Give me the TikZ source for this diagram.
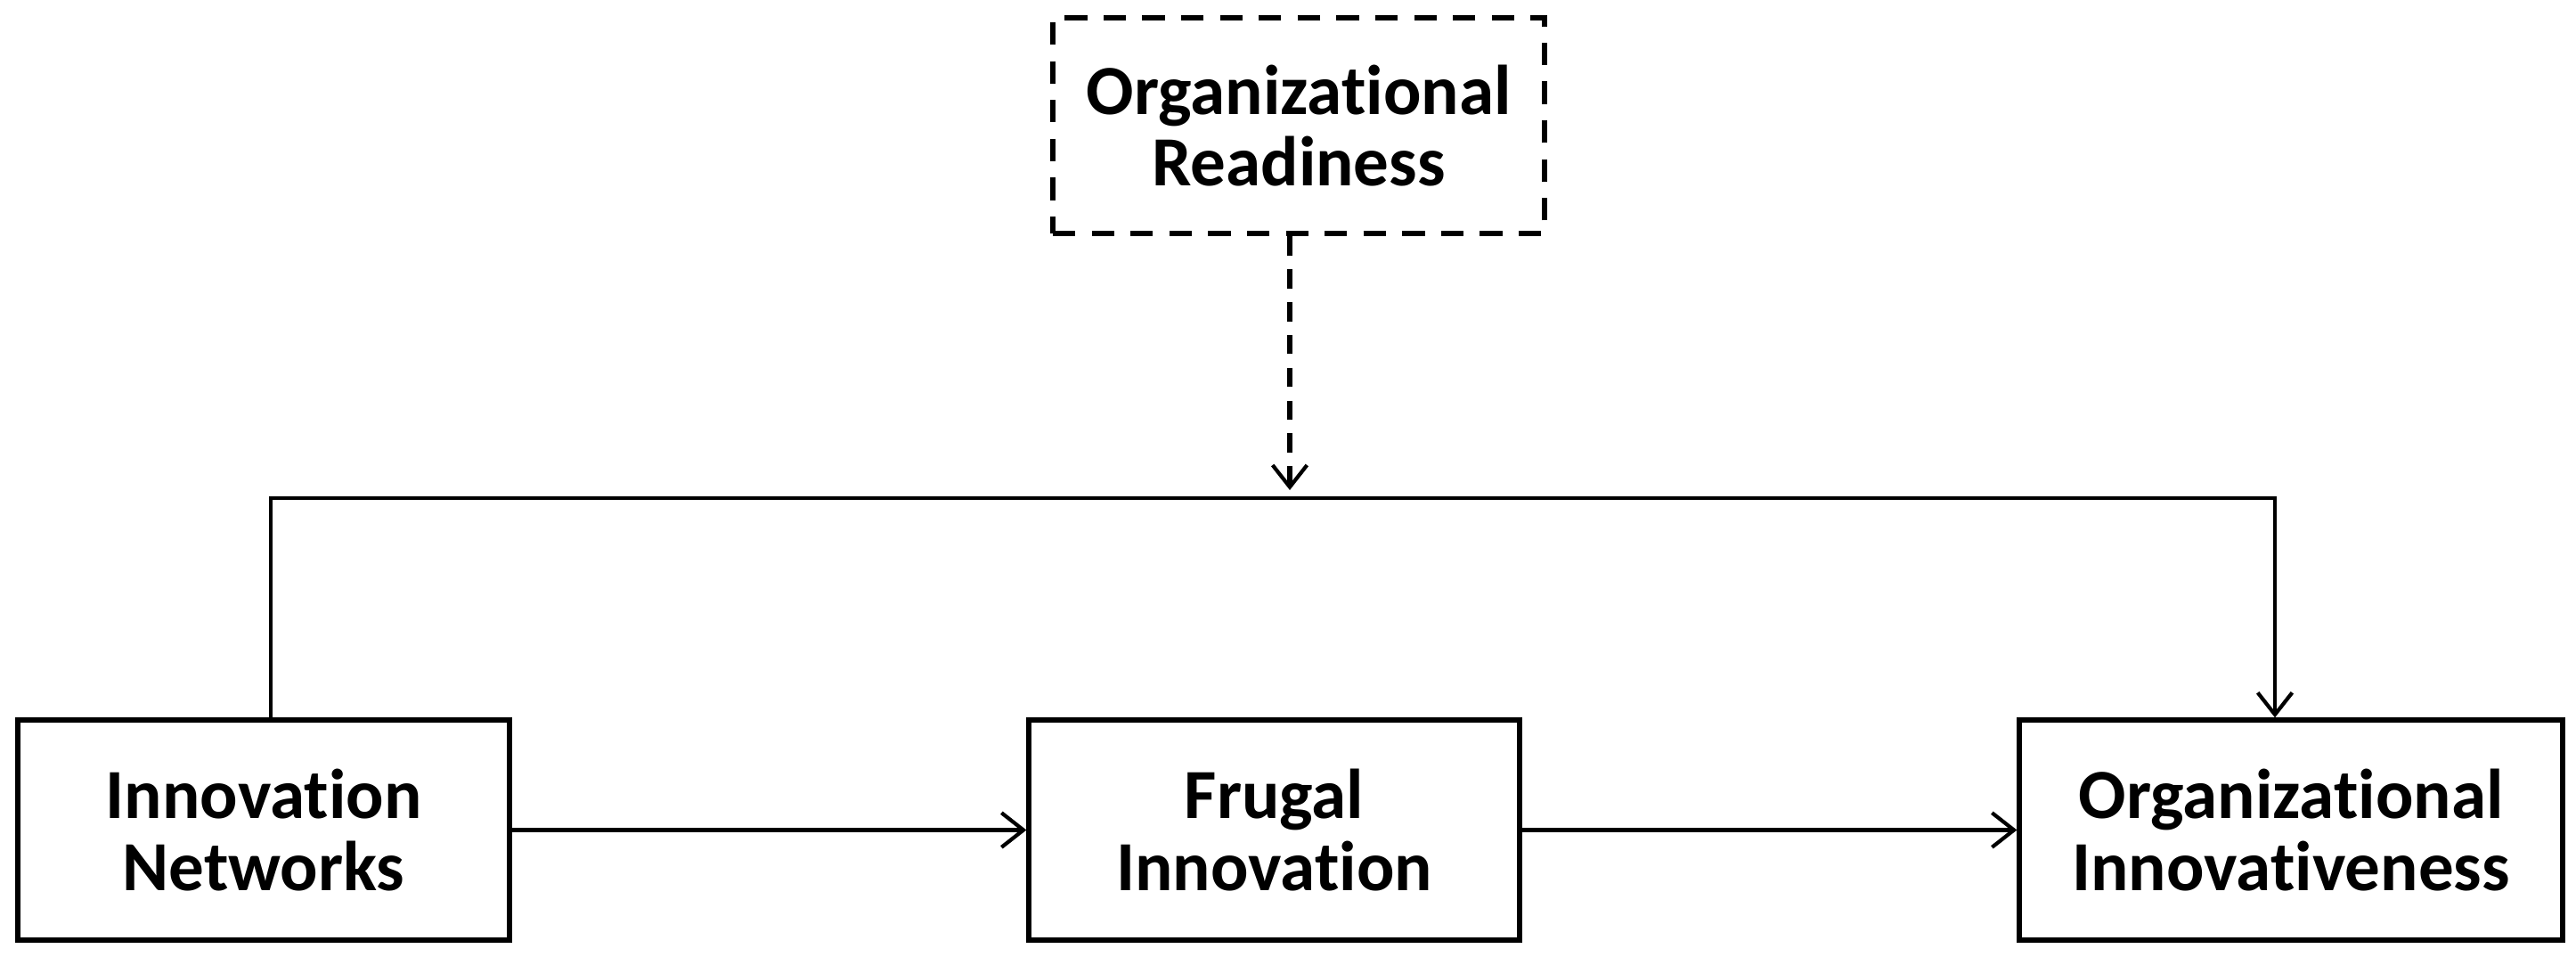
\documentclass[tikz,border=0pt]{standalone}
\usepackage{fontspec}
\setmainfont{Carlito}[RawFeature=-liga]
\usetikzlibrary{arrows.meta}
\begin{document}
\begin{tikzpicture}[
  box/.style={draw, line width=1.5pt, align=center, inner sep=0pt,
    font=\fontsize{22.5}{23}\selectfont\bfseries},
  dashbox/.style={box, line width=1.7pt, dash pattern=on 7.2pt off 5.2pt},
  conn/.style={line width=1.15pt, line join=miter,
    -{Straight Barb[length=7pt,width=11pt,line width=1.2pt]}},
  dashconn/.style={conn, line width=1.5pt, dash pattern=on 6.2pt off 4.3pt}
]
\useasboundingbox (0,0) rectangle (28.92,10.73);
\node[dashbox, minimum width=5.52cm, minimum height=2.42cm] (R) at (14.58,9.32) {Organizational\\Readiness};
\node[box, minimum width=5.52cm, minimum height=2.47cm] (IN) at (2.96,1.415) {Innovation\\Networks};
\node[box, minimum width=5.51cm, minimum height=2.47cm] (FI) at (14.305,1.415) {Frugal\\Innovation};
\node[box, minimum width=6.10cm, minimum height=2.47cm] (OI) at (25.72,1.415) {Organizational\\Innovativeness};
\coordinate (L) at (3.04,5.14);
\coordinate (Rt) at (25.54,5.14);
\coordinate (M) at (14.48,5.14);
\coordinate (Mtip) at (14.48,5.23);
\draw[conn] (IN.north -| L) -- (L) -- (Rt) -- (OI.north -| Rt);
\draw[dashconn] (R.south -| M) -- (Mtip);
\draw[conn] (IN) -- (FI);
\draw[conn] (FI) -- (OI);
\end{tikzpicture}
\end{document}
